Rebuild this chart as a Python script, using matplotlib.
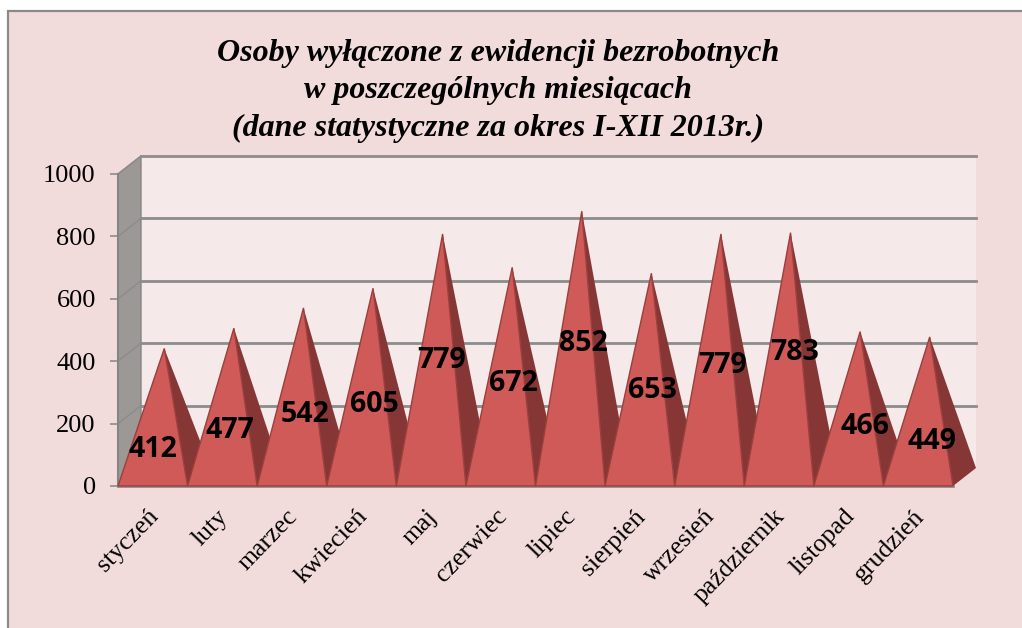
import matplotlib
matplotlib.use('Agg')
import matplotlib.pyplot as plt
from matplotlib.patches import Polygon, Rectangle

months = ['styczeń', 'luty', 'marzec', 'kwiecień', 'maj', 'czerwiec', 'lipiec',
          'sierpień', 'wrzesień', 'październik', 'listopad', 'grudzień']
values = [412, 477, 542, 605, 779, 672, 852, 653, 779, 783, 466, 449]
yticks = [0, 200, 400, 600, 800, 1000]
title = 'Osoby wyłączone z ewidencji bezrobotnych\nw poszczególnych miesiącach\n(dane statystyczne za okres I-XII 2013r.)'

# reczne przesuniecia etykiet (w pikselach, y w dol)
label_dx = [0, 8, 13, 13, 11, 13, 13, 13, 13, 16, 16, 14]
label_dy = [28, 19, 13, 13, -4, 2, -10, 6, 1, -11, 13, 26]

W, H = 1022, 628
bg = '#F2DCDB'
wall = '#F5E9E9'
side = '#9C9896'
grid = '#8C8C8C'
front_c = '#D05A58'
dark_c = '#863735'

plt.rcParams['font.family'] = ['Liberation Serif', 'DejaVu Serif']

fig = plt.figure(figsize=(W / 100, H / 100), dpi=100, facecolor='white')

# tlo i ramka
bgax = fig.add_axes([0, 0, 1, 1])
bgax.set_xlim(0, W)
bgax.set_ylim(H, 0)
bgax.axis('off')
bgax.add_patch(Rectangle((8, 10.5), W + 20, H + 20, fc=bg, ec='#8A8A8A', lw=1.6))

# os wykresu: kategorie 0..12, wartosci 0..1000
ax = fig.add_axes([118 / W, 1 - 486 / H, 835 / W, 312 / H])
ax.set_xlim(0, 12)
ax.set_ylim(0, 1000)
ax.patch.set_visible(False)
for s in ax.spines.values():
    s.set_visible(False)

# glebokosc 3d w jednostkach danych
dx = 23 / (835 / 12)
dy = 18 / 0.312

ax.add_patch(Polygon([(dx, dy), (12 + dx, dy), (12 + dx, 1000 + dy), (dx, 1000 + dy)],
                     fc=wall, ec='none', zorder=1, clip_on=False))
ax.add_patch(Polygon([(0, 0), (dx, dy), (dx, 1000 + dy), (0, 1000)],
                     fc=side, ec='#858585', lw=1, zorder=1, clip_on=False))
for t in yticks[1:]:
    ax.plot([dx, 12 + dx], [t + dy, t + dy], color=grid, lw=2, zorder=2, clip_on=False)
    ax.plot([0, dx], [t, t + dy], color=grid, lw=1, zorder=3, clip_on=False)
ax.plot([0, 12], [0, 0], color=grid, lw=2, zorder=2, clip_on=False)
ax.plot([0, 0], [0, 1000], color='#858585', lw=1.5, zorder=3, clip_on=False)

# ostroslupy
for i, v in enumerate(values):
    apex = (i + 0.5 + dx / 2, v + dy / 2)
    z = 5 + i
    ax.add_patch(Polygon([(i + 1, 0), (i + 1 + dx, dy), apex], fc=dark_c, ec='none',
                         zorder=z, clip_on=False))
    ax.add_patch(Polygon([(i, 0), (i + 1, 0), apex], fc=front_c, ec='#9A3F3D', lw=1,
                         zorder=z, clip_on=False, joinstyle='miter'))

for i, v in enumerate(values):
    ax.annotate(str(v), xy=(i + 0.5, v * 0.5), xycoords='data',
                xytext=(label_dx[i] * 0.72, -label_dy[i] * 0.72), textcoords='offset points',
                ha='center', va='center', fontsize=20.5, fontweight='bold',
                family=['Open Sans', 'DejaVu Sans'], color='black', zorder=30)

ax.set_yticks(yticks)
ax.set_xticks([i + 0.42 for i in range(12)])
ax.set_xticklabels(months, rotation=46, ha='right', rotation_mode='anchor', fontsize=18.6)
ax.tick_params(axis='x', length=0, pad=14)
ax.tick_params(axis='y', length=6, width=1.2, color=grid, labelsize=19, pad=10)

fig.text(498 / W, 1 - 91 / H, title, ha='center', va='center', fontsize=23,
         fontweight='bold', fontstyle='italic', linespacing=1.37)

fig.savefig('out.png', dpi=100)
